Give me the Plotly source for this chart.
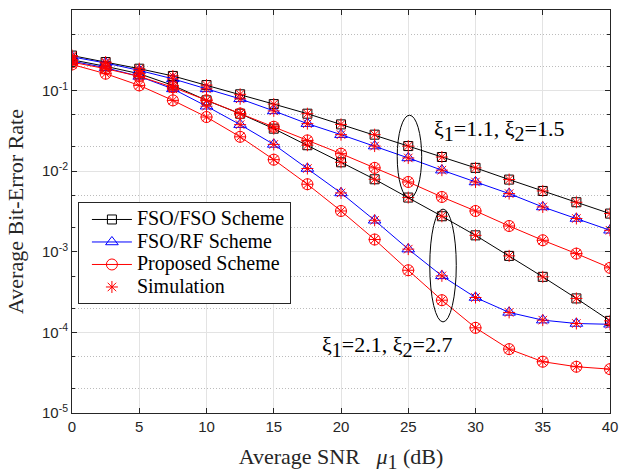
import numpy as np
import plotly.graph_objects as go

snr = [0, 2.5, 5, 7.5, 10, 12.5, 15, 17.5, 20, 22.5, 25, 27.5, 30, 32.5, 35, 37.5, 40]

fso_fso_a = [0.272, 0.226, 0.187, 0.152, 0.117, 0.090, 0.068, 0.0517, 0.0381, 0.0284, 0.0205, 0.015, 0.011, 0.00787, 0.00569, 0.00412, 0.00298]
fso_rf_a = [0.262, 0.220, 0.178, 0.140, 0.105, 0.079, 0.056, 0.0389, 0.0284, 0.0205, 0.0146, 0.0103, 0.00735, 0.00527, 0.0036, 0.00259, 0.00185]
prop_a = [0.225, 0.187, 0.150, 0.110, 0.076, 0.052, 0.0356, 0.0241, 0.0165, 0.011, 0.00735, 0.00479, 0.00321, 0.00209, 0.00139, 0.00095, 0.000632]

fso_fso_b = [0.241, 0.200, 0.162, 0.116, 0.0756, 0.0517, 0.0337, 0.021, 0.0129, 0.00794, 0.00471, 0.00276, 0.0016, 0.00089, 0.000489, 0.000264, 0.000139]
fso_rf_b = [0.232, 0.192, 0.150, 0.105, 0.064, 0.0378, 0.0215, 0.0108, 0.00537, 0.00246, 0.00108, 0.000503, 0.000271, 0.000177, 0.000142, 0.000129, 0.000126]
prop_b = [0.211, 0.162, 0.116, 0.0756, 0.047, 0.0267, 0.0139, 0.00689, 0.00321, 0.00142, 0.00059, 0.000251, 0.000114, 6.2e-5, 4.33e-5, 3.75e-5, 3.5e-5]

ytick_vals = [1, 0.1, 0.01, 0.001, 1e-4, 1e-5]
ytick_text = ["10<sup>0</sup>", "10<sup>-1</sup>", "10<sup>-2</sup>", "10<sup>-3</sup>", "10<sup>-4</sup>", "10<sup>-5</sup>"]
xtick_vals = [0, 5, 10, 15, 20, 25, 30, 35, 40]

legend_names = ["FSO/FSO Scheme", "FSO/RF Scheme", "Proposed Scheme", "Simulation"]

SERIF = "Liberation Serif, Times New Roman, serif"
SANS = "Liberation Sans, Arial, sans-serif"


def sub_full(s, px):
    return "<sub><span style='font-size:%dpx'>%s</span></sub>" % (px, s)


label_a = "ξ" + sub_full("1", 20) + "=1.1, ξ" + sub_full("2", 20) + "=1.5"
label_b = "ξ" + sub_full("1", 20) + "=2.1, ξ" + sub_full("2", 20) + "=2.7"


def leg(s):
    return "<span style='font-size:20px'>%s</span>" % s


fig = go.Figure()

series = [
    (legend_names[0], "black", "square-open", 9, [fso_fso_a, fso_fso_b]),
    (legend_names[1], "blue", "triangle-up-open", 11, [fso_rf_a, fso_rf_b]),
    (legend_names[2], "red", "circle-open", 11, [prop_a, prop_b]),
]
for name, col, sym, sz, ys in series:
    for i, y in enumerate(ys):
        fig.add_trace(go.Scatter(
            x=snr, y=y, mode="lines+markers", name=leg(name),
            showlegend=(i == 0), legendgroup=name,
            line=dict(color=col, width=1),
            marker=dict(symbol=sym, size=sz, color=col, line=dict(width=1, color=col)),
        ))

all_sim = [fso_fso_a, fso_fso_b, fso_rf_a, fso_rf_b, prop_a, prop_b]
for i, y in enumerate(all_sim):
    fig.add_trace(go.Scatter(
        x=snr, y=y, mode="markers", name=leg(legend_names[3]),
        showlegend=(i == 0), legendgroup="sim",
        marker=dict(symbol="asterisk-open", size=10, color="red", line=dict(width=1, color="red")),
    ))

# ellipses: x in data units, y as fraction of the 5-decade log axis
fig.add_shape(type="circle", xref="x", yref="paper", x0=24.18, x1=26.0, y0=0.533, y1=0.739,
              line=dict(color="black", width=1))
fig.add_shape(type="circle", xref="x", yref="paper", x0=26.6, x1=28.57, y0=0.226, y1=0.506,
              line=dict(color="black", width=1))

fig.add_annotation(x=26.75, y=-1.49, xref="x", yref="y", text=label_a, showarrow=False,
                   xanchor="left", yanchor="middle", font=dict(family=SERIF, size=22, color="black"))
fig.add_annotation(x=18.45, y=-4.17, xref="x", yref="y", text=label_b, showarrow=False,
                   xanchor="left", yanchor="middle", font=dict(family=SERIF, size=22, color="black"))

axis_common = dict(
    showline=True, linecolor="#262626", linewidth=1, mirror="allticks",
    ticks="inside", ticklen=5, tickcolor="#262626",
    showgrid=True, gridcolor="#e3e3e3", gridwidth=1,
    zeroline=False,
    tickfont=dict(family=SANS, size=15, color="#262626"),
)

fig.update_xaxes(
    range=[0, 40], tickvals=xtick_vals,
    title=dict(text="Average SNR&nbsp;&nbsp;&nbsp;<i>μ</i>" + sub_full("1", 20) + " (dB)",
               font=dict(family=SERIF, size=22, color="#262626"), standoff=14),
    **axis_common,
)
fig.update_yaxes(
    type="log", range=[-5, 0], tickvals=ytick_vals, ticktext=ytick_text,
    title=dict(text="Average Bit-Error Rate", font=dict(family=SERIF, size=22, color="#262626"), standoff=12),
    minor=dict(ticks="inside", ticklen=3, tickcolor="#262626", showgrid=True,
               gridcolor="#bcbcbc", griddash="1px,2px", gridwidth=1),
    **axis_common,
)

fig.update_layout(
    width=627, height=473,
    margin=dict(l=72, r=9, t=10, b=60),
    paper_bgcolor="white", plot_bgcolor="white",
    legend=dict(x=0.011, y=0.523, xanchor="left", yanchor="top",
                bgcolor="white", bordercolor="#262626", borderwidth=1,
                font=dict(family=SERIF, size=15, color="black"),
                tracegroupgap=0, itemwidth=40, indentation=8),
    showlegend=True,
)

fig.write_html("out.html")
